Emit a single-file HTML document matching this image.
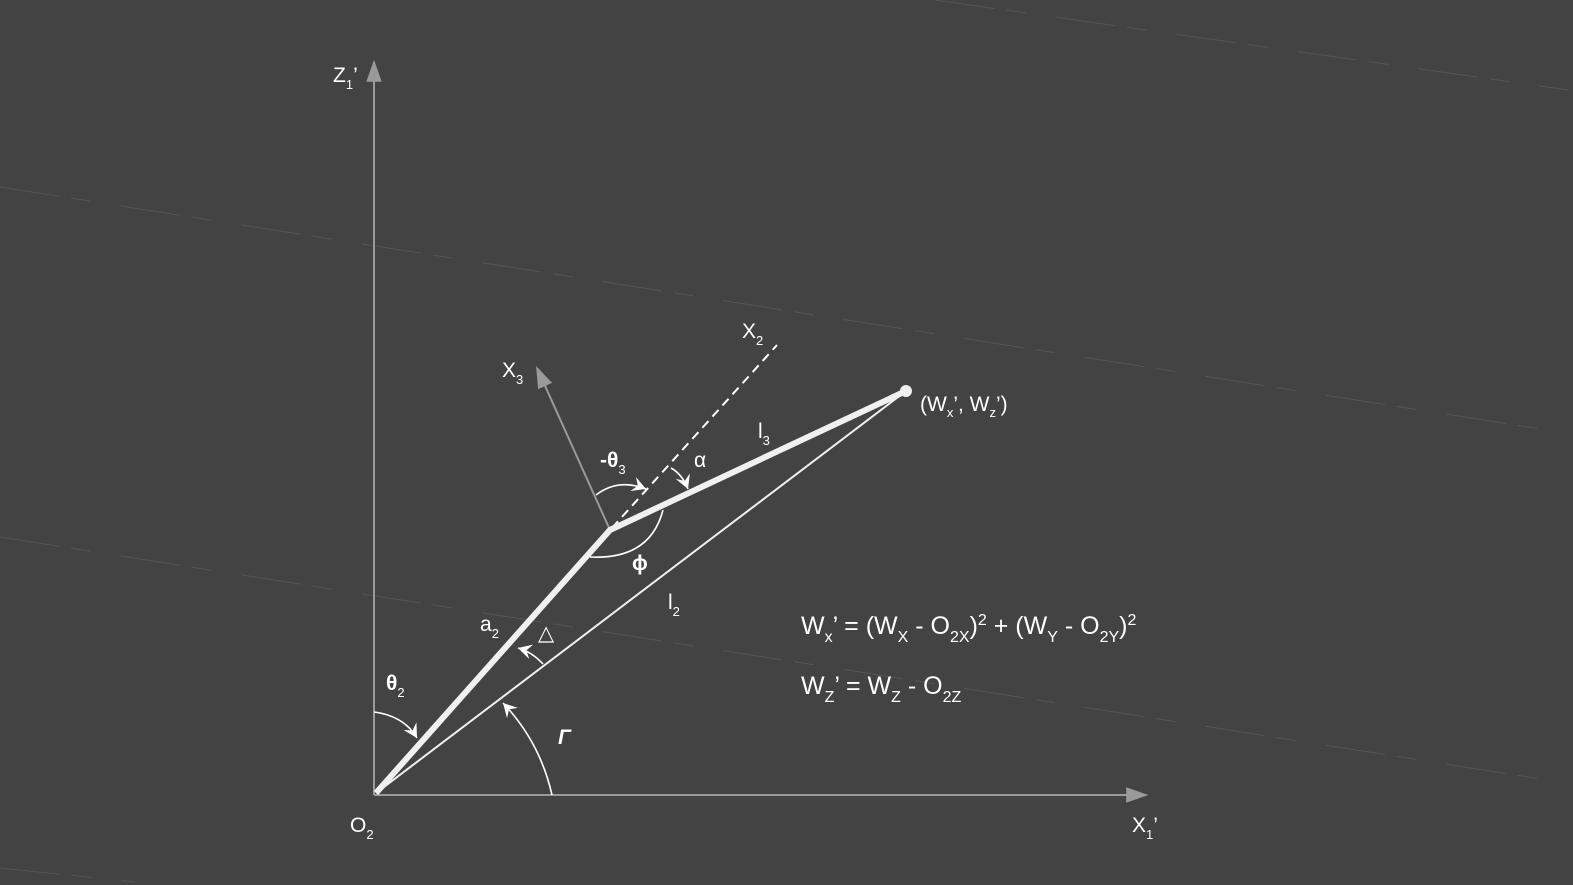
<!DOCTYPE html>
<html><head><meta charset="utf-8"><style>
html,body{margin:0;padding:0;background:#434343;}
svg{display:block;}
text{font-family:"Liberation Sans",sans-serif;fill:#fff;}
</style></head><body>
<svg width="1573" height="885" viewBox="0 0 1573 885">
<defs>
<marker id="ga" viewBox="0 0 10 10" refX="9" refY="5" markerWidth="22" markerHeight="22" orient="auto" markerUnits="userSpaceOnUse"><path d="M0,1.5 L10,5 L0,8.5 z" fill="#9a9a9a"/></marker>
<marker id="wb" viewBox="0 0 12 12" refX="11" refY="6" markerWidth="15" markerHeight="15" orient="auto" markerUnits="userSpaceOnUse"><path d="M0,0 L11,6 L0,12 L4,6 z" fill="#fff"/></marker>
</defs>
<g stroke="#565656" stroke-width="1" stroke-dasharray="60,12,20,30" fill="none">
<line x1="935" y1="0" x2="1568" y2="90"/>
<line x1="0" y1="187" x2="1560" y2="432"/>
<line x1="0" y1="537" x2="1560" y2="782"/>
<line x1="0" y1="868" x2="135" y2="882"/>
</g>
<line x1="374" y1="795" x2="374" y2="62" stroke="#9a9a9a" stroke-width="2" marker-end="url(#ga)"/>
<line x1="374" y1="795" x2="1146" y2="795" stroke="#9a9a9a" stroke-width="2" marker-end="url(#ga)"/>
<line x1="610" y1="530" x2="537" y2="368" stroke="#9a9a9a" stroke-width="2" marker-end="url(#ga)"/>
<line x1="612" y1="528" x2="777" y2="345" stroke="#fff" stroke-width="2" stroke-dasharray="9,6"/>
<line x1="376" y1="793" x2="906" y2="391" stroke="#f0f0f0" stroke-width="2"/>
<polyline points="376,793 610,530 906,391" fill="none" stroke="#f0f0f0" stroke-width="6" stroke-linejoin="miter"/>
<circle cx="906" cy="391" r="6" fill="#f0f0f0"/>
<path d="M374,712 Q404,716 417,738" fill="none" stroke="#fff" stroke-width="1.6" marker-end="url(#wb)"/>
<path d="M552,795 Q540,742 503,703" fill="none" stroke="#fff" stroke-width="1.6" marker-end="url(#wb)"/>
<path d="M543,664 Q532,652 518,648" fill="none" stroke="#fff" stroke-width="1.6" marker-end="url(#wb)"/>
<path d="M590,557 Q650,560 663,510" fill="none" stroke="#fff" stroke-width="1.6"/>
<path d="M596,495 Q618,478 646,489" fill="none" stroke="#fff" stroke-width="1.6" marker-end="url(#wb)"/>
<path d="M671,468 Q682,474 688,489" fill="none" stroke="#fff" stroke-width="1.6" marker-end="url(#wb)"/>
<g font-size="21">
<text x="333" y="82">Z<tspan font-size="13" dy="7">1</tspan><tspan dy="-7">’</tspan></text>
<text x="350" y="832">O<tspan font-size="13" dy="7">2</tspan></text>
<text x="1132" y="832">X<tspan font-size="13" dy="7">1</tspan><tspan dy="-7">’</tspan></text>
<text x="502" y="377">X<tspan font-size="13" dy="7">3</tspan></text>
<text x="742" y="338">X<tspan font-size="13" dy="7">2</tspan></text>
<text x="920" y="411">(W<tspan font-size="13" dy="6">x</tspan><tspan dy="-6">’, W</tspan><tspan font-size="13" dy="6">z</tspan><tspan dy="-6">’)</tspan></text>
<text x="758" y="438">l<tspan font-size="13" dy="7">3</tspan></text>
<text x="668" y="609">l<tspan font-size="13" dy="7">2</tspan></text>
<text x="480" y="631">a<tspan font-size="13" dy="7">2</tspan></text>
<text x="694" y="467">α</text>
<text x="600" y="467" font-weight="bold">-θ<tspan font-size="13" font-weight="normal" dy="7">3</tspan></text>
<text x="632" y="570" font-weight="bold">ϕ</text>
<text x="538" y="640">△</text>
<text x="386" y="690" font-weight="bold">θ<tspan font-size="13" font-weight="normal" dy="7">2</tspan></text>
<text x="558" y="744" font-family="Liberation Serif,serif" font-style="italic" font-weight="bold">Γ</text>
<text x="801" y="634" font-size="25">W<tspan font-size="16" dy="8">x</tspan><tspan dy="-8">’ = (W</tspan><tspan font-size="16" dy="8">X</tspan><tspan dy="-8"> - O</tspan><tspan font-size="16" dy="8">2X</tspan><tspan dy="-8">)</tspan><tspan font-size="16" dy="-9">2</tspan><tspan dy="9"> + (W</tspan><tspan font-size="16" dy="8">Y</tspan><tspan dy="-8"> - O</tspan><tspan font-size="16" dy="8">2Y</tspan><tspan dy="-8">)</tspan><tspan font-size="16" dy="-9">2</tspan></text>
<text x="801" y="694" font-size="25">W<tspan font-size="16" dy="8">Z</tspan><tspan dy="-8">’ = W</tspan><tspan font-size="16" dy="8">Z</tspan><tspan dy="-8"> - O</tspan><tspan font-size="16" dy="8">2Z</tspan></text>
</g>
</svg>
</body></html>
